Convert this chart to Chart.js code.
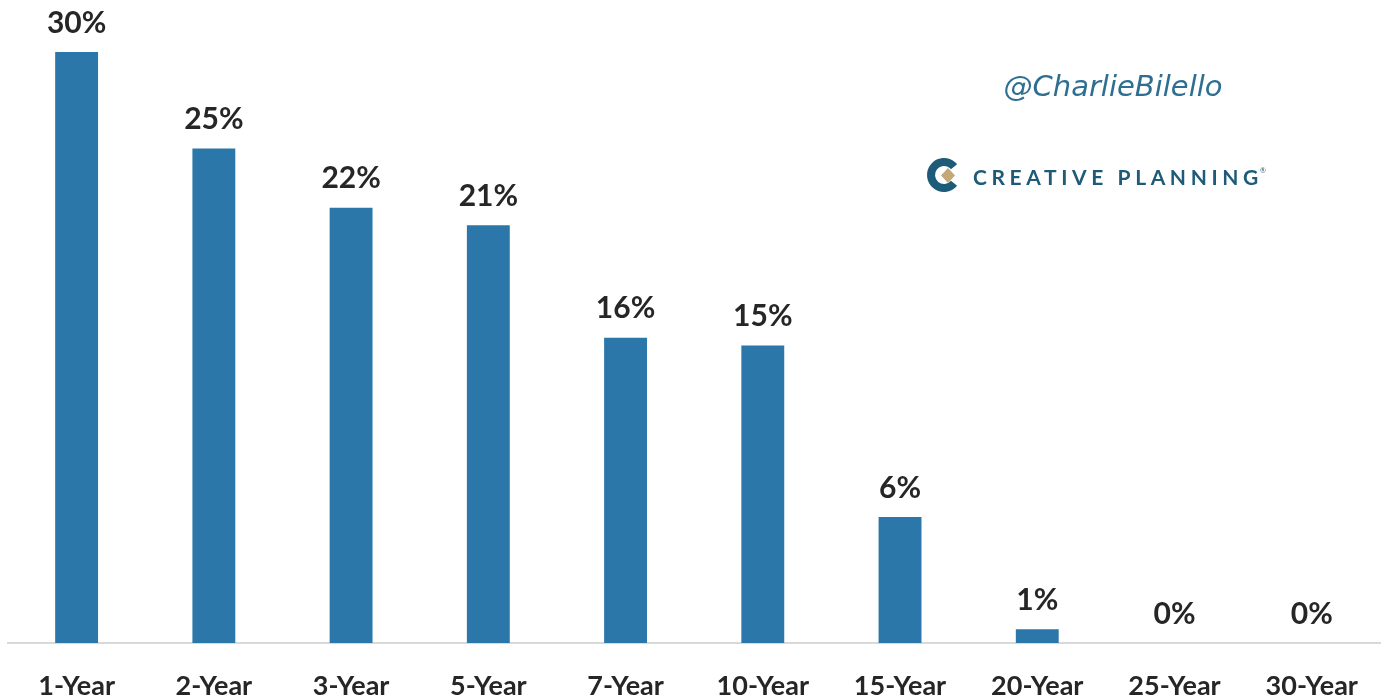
<!DOCTYPE html>
<html>
<head>
<meta charset="utf-8">
<script src="https://cdn.jsdelivr.net/npm/chart.js@4.4.1/dist/chart.umd.min.js"></script>
<style>
  html, body { margin: 0; padding: 0; background: #ffffff; }
  #wrap { position: relative; width: 1385px; height: 698px; }
</style>
</head>
<body>
<div id="wrap"><canvas id="c"></canvas></div>
<script>
const categories = ['1-Year', '2-Year', '3-Year', '5-Year', '7-Year', '10-Year', '15-Year', '20-Year', '25-Year', '30-Year'];
const values = [30.0, 25.1, 22.1, 21.2, 15.5, 15.1, 6.4, 0.7, 0, 0];
const yMin = 0;
const yMax = 30;

const barLabels = {
  id: 'barLabels',
  afterDatasetsDraw(chart) {
    const ctx = chart.ctx;
    const meta = chart.getDatasetMeta(0);
    ctx.save();
    ctx.font = 'bold 30px Lato';
    ctx.fillStyle = '#262626';
    ctx.textAlign = 'center';
    ctx.textBaseline = 'middle';
    meta.data.forEach((bar, i) => {
      ctx.fillText(Math.round(values[i]) + '%', bar.x, bar.y - 29);
    });
    ctx.restore();
  }
};

const brand = {
  id: 'brand',
  afterDraw(chart) {
    const ctx = chart.ctx;
    ctx.save();
    // handle
    ctx.font = 'italic 29px "DejaVu Sans"';
    ctx.fillStyle = '#2d6e91';
    ctx.textAlign = 'center';
    ctx.textBaseline = 'middle';
    ctx.fillText('@CharlieBilello', 1113, 88);
    // logo C
    const cx = 944, cy = 175;
    ctx.beginPath();
    ctx.arc(cx, cy, 13, 0.22 * Math.PI, 1.78 * Math.PI, false);
    ctx.strokeStyle = '#1d5b78';
    ctx.lineWidth = 8;
    ctx.stroke();
    // gold diamond
    ctx.beginPath();
    ctx.moveTo(cx + 4, cy - 7);
    ctx.lineTo(cx + 11, cy + 0.5);
    ctx.lineTo(cx + 4, cy + 8);
    ctx.lineTo(cx - 3, cy + 0.5);
    ctx.closePath();
    ctx.fillStyle = '#c4a878';
    ctx.fill();
    // text
    ctx.font = 'bold 21px Lato';
    ctx.fillStyle = '#1d5b78';
    ctx.textAlign = 'left';
    ctx.letterSpacing = '4.6px';
    ctx.fillText('CREATIVE PLANNING', 973, 178);
    ctx.letterSpacing = '0px';
    ctx.font = '7px Lato';
    ctx.fillText('®', 1260, 171);
    ctx.restore();
  }
};

new Chart(document.getElementById('c'), {
  type: 'bar',
  data: {
    labels: categories,
    datasets: [{
      data: values,
      backgroundColor: '#2b77a9',
      borderWidth: 0,
      barPercentage: 0.625,
      categoryPercentage: 0.5
    }]
  },
  options: {
    responsive: true,
    maintainAspectRatio: false,
    animation: false,
    layout: { padding: { top: 52, left: 8, right: 2, bottom: 0 } },
    plugins: { legend: { display: false }, tooltip: { enabled: false } },
    scales: {
      y: { display: false, min: yMin, max: yMax },
      x: {
        grid: { display: false, drawTicks: false },
        border: { display: true, color: '#d9d9d9', width: 2 },
        ticks: {
          font: { family: 'Lato', weight: 'bold', size: 27 },
          color: '#262626',
          padding: 27,
          maxRotation: 0,
          autoSkip: false
        },
        afterFit(scale) { scale.height = 55; }
      }
    }
  },
  plugins: [barLabels, brand]
});
</script>
</body>
</html>
